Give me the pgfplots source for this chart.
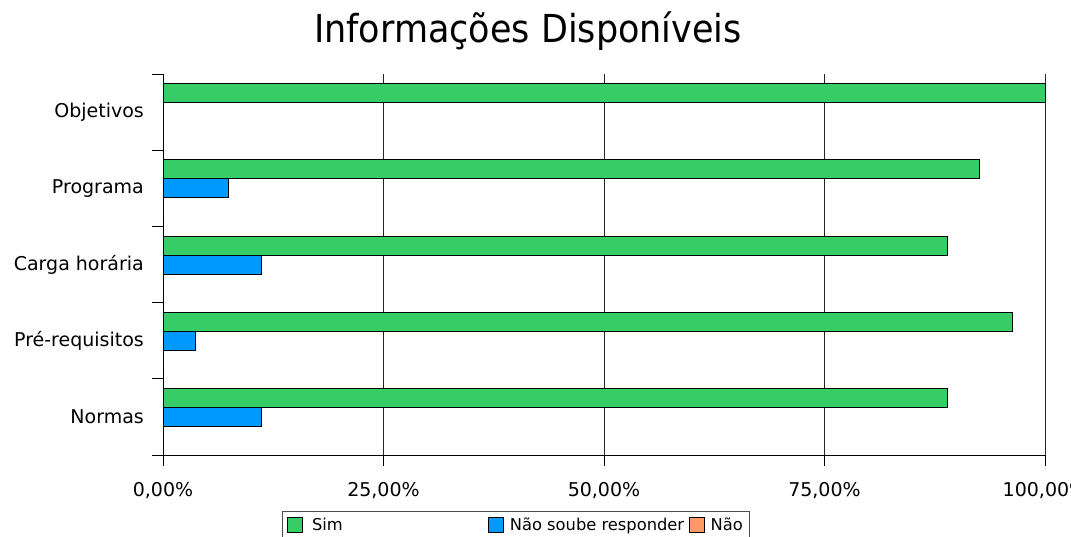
\documentclass[border=0pt]{standalone}
\usepackage{fontspec}
\setmainfont{DejaVu Sans}
\usepackage{graphicx}
\usepackage{pgfplots}
\pgfplotsset{compat=1.18}
\definecolor{cSim}{RGB}{54,204,102}
\definecolor{cNSR}{RGB}{0,153,255}
\definecolor{cNao}{RGB}{255,153,102}
\begin{document}
\begin{tikzpicture}
\begin{axis}[
  at={(163pt,-455pt)}, anchor=south west,
  scale only axis, width=882pt, height=381pt,
  xmin=0, xmax=100, ymin=-0.5, ymax=4.5,
  xbar, bar width=19pt,
  axis x line*=bottom, axis y line*=left,
  axis line style={black, line width=0.9pt, -},
  xtick={0,25,50,75,100},
  xticklabels={{0,00\%},{25,00\%},{50,00\%},{75,00\%},{100,00\%}},
  ytick={0,1,2,3,4},
  yticklabels={Normas,Pré-requisitos,Carga horária,Programa,Objetivos},
  minor xtick={0,25,50,75,100},
  minor ytick={-0.5,0.5,1.5,2.5,3.5,4.5},
  major tick length=0pt, minor tick length=11pt,
  tick align=outside,
  tick style={black, line width=0.9pt},
  xmajorgrids, major grid style={black!85, line width=1pt},
  ticklabel style={font=\fontsize{19}{22}\selectfont},
  yticklabel style={anchor=east, inner sep=0pt, xshift=-19pt},
  xticklabel style={anchor=north, inner sep=0pt, yshift=-27pt},
  legend columns=3,
  legend style={at={(0.1349,-0.147)}, anchor=north west, draw=black!70, line width=0.6pt,
    font=\fontsize{16.3}{19}\selectfont, inner xsep=5pt, inner ysep=6pt,
    nodes={inner sep=0pt}},
  legend image code/.code={\draw[#1] (0pt,-8pt) rectangle (15pt,7pt);},
  clip=false,
]
\addplot[fill=cSim, draw=black, line width=0.8pt, bar shift=19pt] coordinates {
  (88.89,0) (96.30,1) (88.89,2) (92.59,3) (100,4)};
\addlegendentry{\makebox[185pt][l]{\rule[-10pt]{0pt}{10pt}\hspace{9pt}Sim}}
\addplot[fill=cNSR, draw=black, line width=0.8pt, bar shift=0pt] coordinates {
  (11.11,0) (3.70,1) (11.11,2) (7.41,3) (0,4)};
\addlegendentry{\makebox[185pt][l]{\hspace{6pt}Não soube responder}}
\addplot[fill=cNao, draw=black, line width=0.8pt, bar shift=-19pt] coordinates {
  (0,0) (0,1) (0,2) (0,3) (0,4)};
\addlegendentry{\makebox[40pt][l]{\hspace{6pt}Não}}
\end{axis}
\node[anchor=base, font=\fontsize{35}{40}\selectfont] at (528pt,-43pt) {\scalebox{1}[1.1]{Informações Disponíveis}};
\pgfresetboundingbox
\path (0pt,0pt) rectangle (1071pt,-537pt);
\end{tikzpicture}
\end{document}
